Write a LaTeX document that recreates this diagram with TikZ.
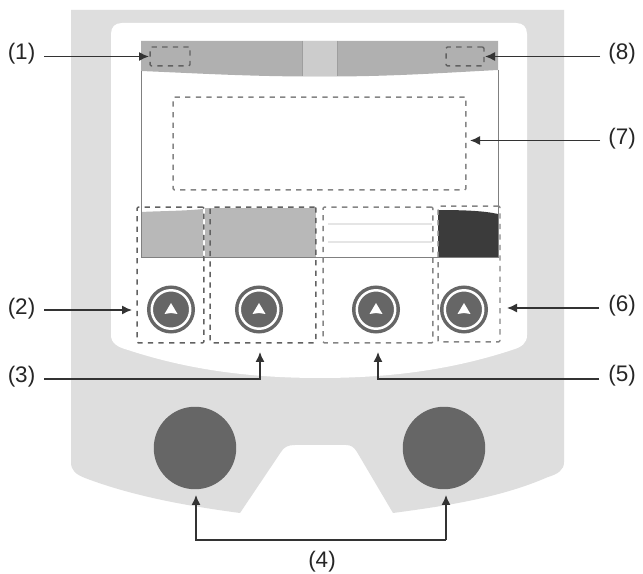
\documentclass[tikz,border=0pt]{standalone}
\usepackage{fontspec}
\setmainfont{Liberation Sans}
\usetikzlibrary{arrows.meta}
\usetikzlibrary{positioning}
\colorlet{panel}{black!13}
\colorlet{bar}{black!31}
\colorlet{knob}{black!60}
\begin{document}
\begin{tikzpicture}[
x=0.02cm,y=-0.02cm,
MyLabels/.style={font=\fontsize{12.8}{15}\selectfont,text=black!85,inner sep=0pt},
MyArrows/.style={-{Latex[length=2mm, width=1.8mm]},black!80,line width=0.8pt},
DashDark/.style={draw=black!62,line width=0.85pt,dash pattern=on 3pt off 3pt,rounded corners=0.8pt,inner sep=0pt},
DashLight/.style={DashDark,draw=black!48},
MyButtons/.style={circle,draw=knob,line width=2pt,fill=knob,inner sep=0pt,minimum size=0.89cm},
MyRings/.style={circle,draw=white,line width=1.4pt,inner sep=0pt,minimum size=0.77cm},
MyKnobs/.style={circle,fill=knob,inner sep=0pt,minimum size=1.65cm}
]
\useasboundingbox[fill=white] (0,0) rectangle (643,574);

% panel
\fill[panel] (71,10) -- (564,10) -- (564,462)
  .. controls (564,470) and (558,474) .. (548,477)
  .. controls (500,498) and (445,506) .. (393,513)
  -- (357,452) .. controls (354,447) and (351,445) .. (346,445)
  -- (295,445) .. controls (288,445) and (284,447) .. (281,452)
  -- (240,513)
  .. controls (180,505) and (130,495) .. (85,478)
  .. controls (75,474) and (71,470) .. (71,462) -- cycle;
\fill[white] (122,23) -- (516,23) .. controls (523,23) and (527,27) .. (527,34)
  -- (527,335) .. controls (527,343) and (522,347) .. (512,350)
  .. controls (460,367) and (400,378) .. (320,378)
  .. controls (240,378) and (180,367) .. (128,350)
  .. controls (117,347) and (111,343) .. (111,335)
  -- (111,34) .. controls (111,27) and (115,23) .. (122,23) -- cycle;

% display
\fill[bar] (141,41) -- (498,41) -- (498,70) .. controls (440,73) and (400,76) .. (337,76.5)
  -- (302,76.5) .. controls (240,76) and (190,73) .. (141,71) -- cycle;
\fill[black!20] (302,41) rectangle (337,76.5);
\draw[black!38,line width=0.5pt] (302,41) -- (302,76.5) (337,41) -- (337,76.5);
\fill[black!28] (141,212) .. controls (160,211) and (185,211) .. (203,209) -- (203,257) -- (141,257) -- cycle;
\fill[black!28] (205,208) rectangle (316,257);
\fill[black!77] (438,210) .. controls (465,210) and (485,211) .. (498,214) -- (498,257) -- (438,257) -- cycle;
\draw[black!10,line width=0.6pt] (328,224) -- (432,224) (328,242) -- (432,242);
\draw[black!50,line width=0.5pt] (141,71) -- (141,257) -- (498,257) -- (498,70);

% dashed areas
\node[DashDark,minimum width=0.8cm,minimum height=0.38cm] (zoneA) at (170,56.5) {};
\node[DashDark,minimum width=0.76cm,minimum height=0.38cm] (zoneH) at (465,56.5) {};
\node[DashLight,minimum width=5.86cm,minimum height=1.86cm] (zoneG) at (319.5,143.5) {};
\node[DashDark,minimum width=1.34cm,minimum height=2.72cm] (zoneB) at (170.5,275) {};
\node[DashDark,minimum width=2.12cm,minimum height=2.72cm] (zoneC) at (263,275) {};
\node[DashLight,minimum width=2.20cm,minimum height=2.72cm] (zoneE) at (378,275) {};
\node[DashLight,minimum width=1.24cm,minimum height=2.72cm] (zoneF) at (469,274) {};

% buttons
\foreach \Name/\Xb in {btnA/171,btnB/259,btnC/376,btnD/464}{
  \node[MyButtons] (\Name) at (\Xb,309.5) {};
  \node[MyRings] at (\Name) {};
  \fill[white] (\Xb,303) -- (\Xb+6.5,314) -- (\Xb,313) -- (\Xb-6.5,314) -- cycle;
}

% knobs
\node[MyKnobs] (knobL) at (195,448) {};
\node[MyKnobs] (knobR) at (444,448) {};

% labels
\node[MyLabels] (l1) at (21.5,54) {(1)};
\node[MyLabels] (l2) at (21.5,309) {(2)};
\node[MyLabels] (l3) at (21.5,377) {(3)};
\node[MyLabels] (l4) at (322,562) {(4)};
\node[MyLabels] (l5) at (622,376) {(5)};
\node[MyLabels] (l6) at (622,306) {(6)};
\node[MyLabels] (l7) at (622,139) {(7)};
\node[MyLabels] (l8) at (622,54) {(8)};

% free ends
\coordinate (a1) at (149,56.5);
\coordinate (s1) at (44,56.5);
\coordinate (a8) at (485,56.5);
\coordinate (s8) at (600,56.5);
\coordinate (a7) at (470,140.5);
\coordinate (s7) at (600,140.5);
\coordinate (a2) at (132,310);
\coordinate (s2) at (44,310);
\coordinate (a6) at (507,308);
\coordinate (s6) at (599,308);
\coordinate (a3) at (260,352);
\coordinate (s3) at (44,379);
\coordinate (a5) at (378,352);
\coordinate (s5) at (599,379);
\coordinate (a4) at (196,495);
\coordinate (b4) at (446,495);
\coordinate (s4) at (196,540);
\coordinate (t4) at (446,540);

\draw[MyArrows] (s1)--(a1);
\draw[MyArrows] (s8)--(a8);
\draw[MyArrows] (s7)--(a7);
\draw[MyArrows] (s2)--(a2);
\draw[MyArrows] (s6)--(a6);
\draw[MyArrows] (s3)-|(a3);
\draw[MyArrows] (s5)-|(a5);
\draw[MyArrows] (t4)--(s4)--(a4);
\draw[MyArrows] (t4)--(b4);

\end{tikzpicture}
\end{document}
